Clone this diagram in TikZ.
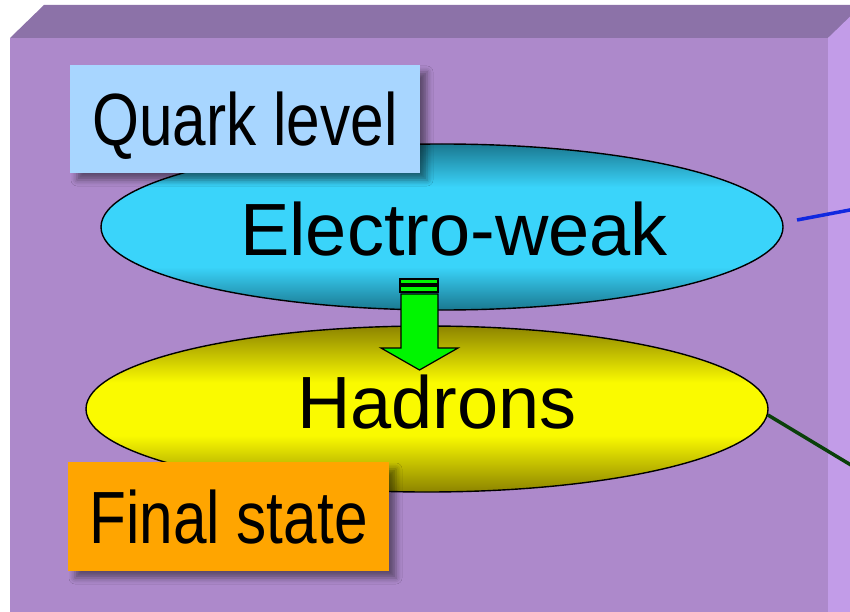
\documentclass[tikz,border=0pt]{standalone}
\usepackage{fontspec}
\setmainfont{Liberation Sans}
\usetikzlibrary{shapes.geometric,shadows.blur}
\definecolor{frontc}{HTML}{AD89CB}
\definecolor{topc}{HTML}{8C72A8}
\definecolor{sidec}{HTML}{C29CE8}
\definecolor{ewdark}{HTML}{1A7890}
\definecolor{ewlight}{HTML}{3AD4FA}
\definecolor{hddark}{HTML}{8C8400}
\definecolor{hdlight}{HTML}{FAFA00}
\definecolor{qboxc}{HTML}{A8D6FF}
\definecolor{fboxc}{HTML}{FFA500}
\definecolor{arrgreen}{RGB}{0,245,0}
\definecolor{blueline}{HTML}{1028E0}
\definecolor{greenline}{HTML}{0A400A}
\pgfdeclareverticalshading{ewshade}{100bp}{color(0bp)=(ewdark); color(25bp)=(ewdark); color(38bp)=(ewlight); color(62bp)=(ewlight); color(75bp)=(ewdark); color(100bp)=(ewdark)}
\pgfdeclareverticalshading{hdshade}{100bp}{color(0bp)=(hddark); color(25bp)=(hddark); color(42bp)=(hdlight); color(58bp)=(hdlight); color(75bp)=(hddark); color(100bp)=(hddark)}
\tikzset{
  lbl/.style={font=\fontsize{74}{80}\selectfont, inner sep=0pt, anchor=base},
  blob/.style={ellipse, draw=black, line width=1.4pt, minimum width=682pt, minimum height=166pt, inner sep=0pt},
  tagbox/.style={inner sep=0pt, text height=53pt, text depth=0pt, font=\fontsize{74}{80}\selectfont,
    blur shadow={shadow xshift=7pt, shadow yshift=-7pt, shadow blur radius=6pt, shadow opacity=45}},
  link/.style={line width=3.5pt},
  arrowst/.style={fill=arrgreen, draw=black, line width=1.2pt, line join=miter},
}
\begin{document}
\begin{tikzpicture}[x=1pt,y=-1pt]
\useasboundingbox (0,0) rectangle (850,612);
\clip (0,0) rectangle (850,612);
\fill[white] (0,0) rectangle (850,612);
% box faces
\fill[frontc] (10,38) rectangle (828,620);
\fill[topc] (10,38) -- (44,5) -- (870,5) -- (828,38) -- cycle;
\fill[sidec] (828,38) -- (862,5) -- (862,620) -- (828,620) -- cycle;
% ellipses
\node[blob, shading=ewshade] (ew) at (442,227) {};
\node[blob, shading=hdshade] (hd) at (427,409) {};
\node[lbl] (ewt) at (454,255) {Electro-weak};
\node[lbl] (hdt) at (437,428) {Hadrons};
% block arrow
\draw[arrowst] (400,279) rectangle (438,284);
\draw[arrowst] (400,286) rectangle (438,292);
\draw[arrowst] (401,294) -- (438,294) -- (438,348) -- (458,348) -- (419.5,370) -- (381,348) -- (401,348) -- cycle;
% outgoing lines
\coordinate (b1) at (797,220);
\coordinate (b2) at (862,207.7);
\coordinate (g2) at (870,476.5);
\draw[link, blueline] (b1) -- (b2);
\draw[link, greenline] (hd.-1.35) -- (g2);
% tag boxes
\node[tagbox, fill=qboxc, minimum width=350pt, minimum height=108pt] (ql) at (245,119) {\scalebox{0.815}[1]{Quark level}};
\node[tagbox, fill=fboxc, minimum width=321pt, minimum height=109pt] (fs) at (228.5,516.5) {\scalebox{0.815}[1]{Final state}};
\end{tikzpicture}
\end{document}
